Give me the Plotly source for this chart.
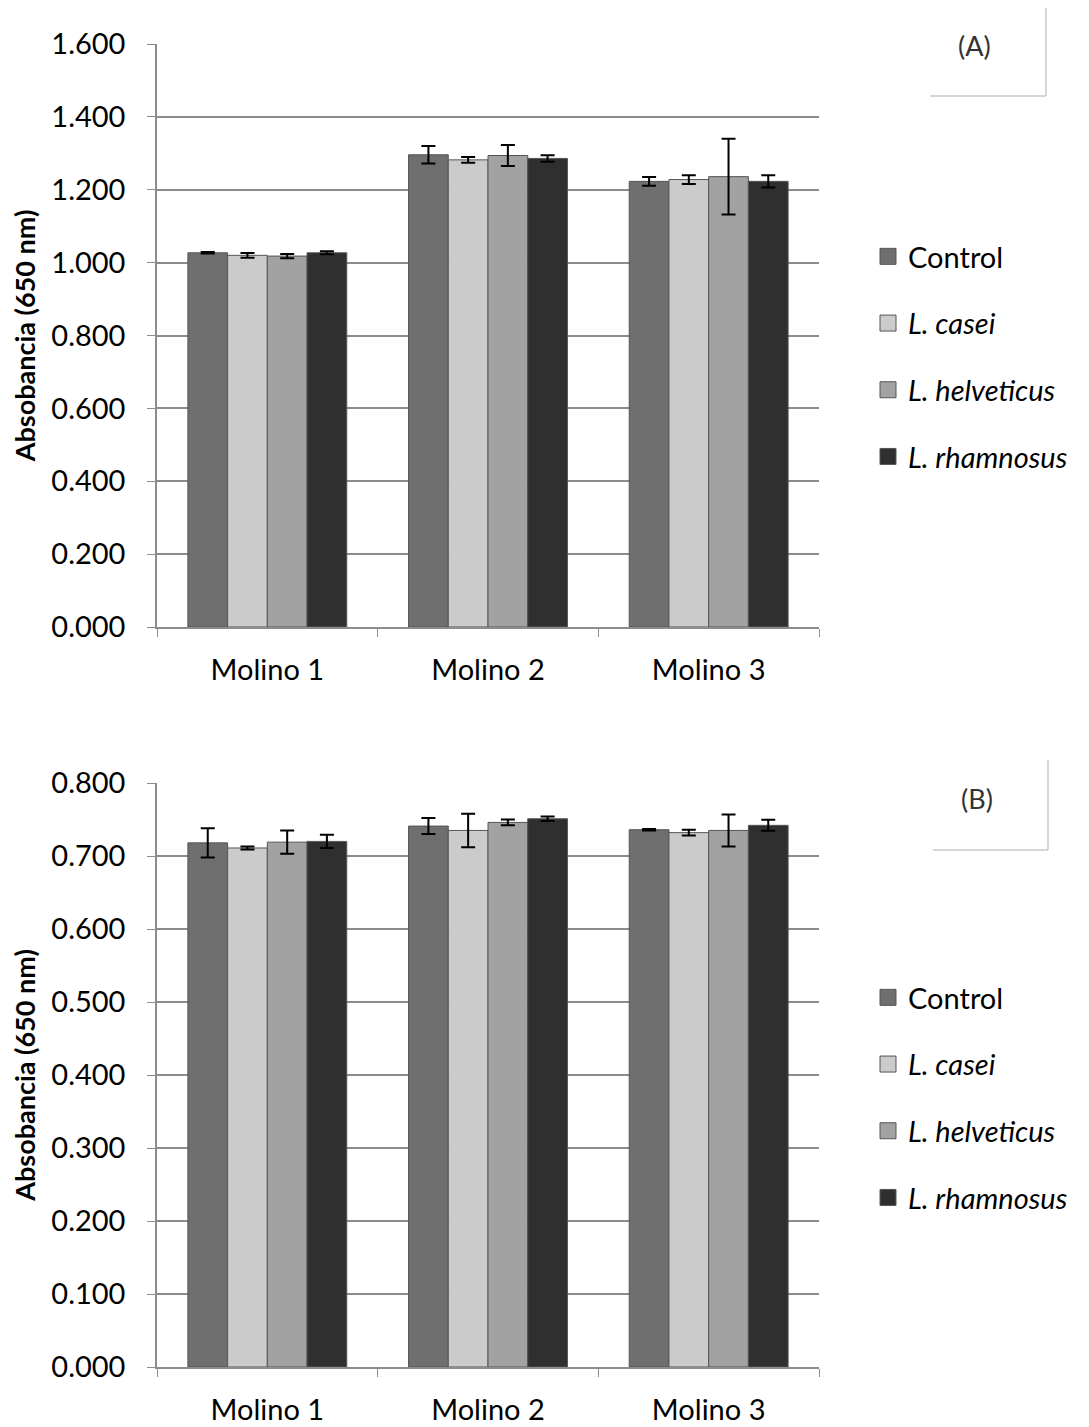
import plotly.graph_objects as go

categories = ["Molino 1", "Molino 2", "Molino 3"]
series_names = ["Control", "<i>L. casei</i>", "<i>L. helveticus</i>", "<i>L. rhamnosus</i>"]
colors = ["#6f6f6f", "#cbcbcb", "#a2a2a2", "#2f2f2f"]

# Panel A
a_control = [1.027, 1.296, 1.223]
a_casei = [1.020, 1.282, 1.228]
a_helveticus = [1.018, 1.294, 1.236]
a_rhamnosus = [1.027, 1.286, 1.223]
a_control_err = [0.002, 0.024, 0.012]
a_casei_err = [0.0065, 0.008, 0.012]
a_helveticus_err = [0.006, 0.029, 0.104]
a_rhamnosus_err = [0.004, 0.009, 0.017]

# Panel B
b_control = [0.718, 0.741, 0.736]
b_casei = [0.711, 0.735, 0.732]
b_helveticus = [0.719, 0.746, 0.735]
b_rhamnosus = [0.720, 0.751, 0.742]
b_control_err = [0.020, 0.011, 0.001]
b_casei_err = [0.002, 0.023, 0.004]
b_helveticus_err = [0.016, 0.004, 0.022]
b_rhamnosus_err = [0.009, 0.003, 0.0075]

FONT = "Lato"
# page body has an 8px default margin
OFF = 8
W, H = 1081, 1419


def px(x):
    return (x - OFF) / W


def py(y):
    return 1 - (y - OFF) / H


fig = go.Figure()

panelA = [a_control, a_casei, a_helveticus, a_rhamnosus]
panelA_err = [a_control_err, a_casei_err, a_helveticus_err, a_rhamnosus_err]
panelB = [b_control, b_casei, b_helveticus, b_rhamnosus]
panelB_err = [b_control_err, b_casei_err, b_helveticus_err, b_rhamnosus_err]

for panel, vals, errs, xa, ya, leg in [("a", panelA, panelA_err, "x", "y", "legend"),
                                        ("b", panelB, panelB_err, "x2", "y2", "legend2")]:
    for i in range(4):
        fig.add_trace(go.Bar(
            x=categories, y=vals[i], name=series_names[i],
            marker=dict(color=colors[i], line=dict(color="#555555", width=1)),
            error_y=dict(type="data", array=errs[i], color="black", thickness=2, width=7),
            xaxis=xa, yaxis=ya, showlegend=False, legendgroup=panel + str(i),
        ))
    # legend entries with larger square swatches
    for i in range(4):
        fig.add_trace(go.Scatter(
            x=[None], y=[None], mode="markers", name=series_names[i],
            marker=dict(symbol="square", size=19, color=colors[i], line=dict(color="#555555", width=1)),
            xaxis=xa, yaxis=ya, legend=leg, legendgroup=panel + str(i), showlegend=True,
        ))

axis_common = dict(showline=True, linecolor="#8c8c8c", linewidth=1.5,
                   tickfont=dict(family=FONT, size=29, color="black"),
                   ticks="outside", ticklen=8, tickcolor="#8c8c8c", automargin=False)

x_dom = [px(157), px(819)]
ytitle = dict(text="<b>Absobancia (650 nm)</b>", font=dict(family=FONT, size=27), standoff=14)
fig.update_layout(
    width=W, height=H,
    margin=dict(l=0, r=0, t=0, b=0),
    paper_bgcolor="white", plot_bgcolor="white",
    barmode="group", bargap=0.28, bargroupgap=0,
    font=dict(family=FONT, color="black"),
    xaxis=dict(domain=x_dom, anchor="y", tickson="boundaries", showgrid=False,
               ticklabelstandoff=16, **axis_common),
    yaxis=dict(domain=[py(627), py(44)], anchor="x",
               range=[0, 1.6], dtick=0.2, tickformat=".3f",
               showgrid=True, gridcolor="#8c8c8c", gridwidth=1.5,
               ticklabelstandoff=16, title=ytitle, **axis_common),
    xaxis2=dict(domain=x_dom, anchor="y2", tickson="boundaries", showgrid=False,
                ticklabelstandoff=16, **axis_common),
    yaxis2=dict(domain=[py(1367), py(783)], anchor="x2",
                range=[0, 0.8], dtick=0.1, tickformat=".3f",
                showgrid=True, gridcolor="#8c8c8c", gridwidth=1.5,
                ticklabelstandoff=16, title=ytitle, **axis_common),
    legend=dict(x=px(868), y=py(231), xanchor="left", yanchor="top",
                font=dict(family=FONT, size=29), tracegroupgap=26, itemwidth=30,
                bgcolor="rgba(0,0,0,0)"),
    legend2=dict(x=px(868), y=py(972), xanchor="left", yanchor="top",
                 font=dict(family=FONT, size=29), tracegroupgap=26, itemwidth=30,
                 bgcolor="rgba(0,0,0,0)"),
    showlegend=True,
)

# Panel label boxes
for label, ytop, ybot, xright, xleft, xtext, ytext in [("(A)", 0, 96, 1046, 930, 974, 45),
                                                        ("(B)", 760, 850, 1048, 933, 977, 798)]:
    fig.add_shape(type="line", xref="paper", yref="paper",
                  x0=px(xright), x1=px(xright), y0=min(1, py(ytop)), y1=py(ybot),
                  line=dict(color="#c8c8c8", width=1.5))
    fig.add_shape(type="line", xref="paper", yref="paper",
                  x0=px(xleft), x1=px(xright), y0=py(ybot), y1=py(ybot),
                  line=dict(color="#c8c8c8", width=1.5))
    fig.add_annotation(text=label, xref="paper", yref="paper",
                       x=px(xtext), y=py(ytext), xanchor="center", yanchor="middle",
                       showarrow=False, font=dict(family=FONT, size=27, color="#333333"))

fig.write_html("out.html")
